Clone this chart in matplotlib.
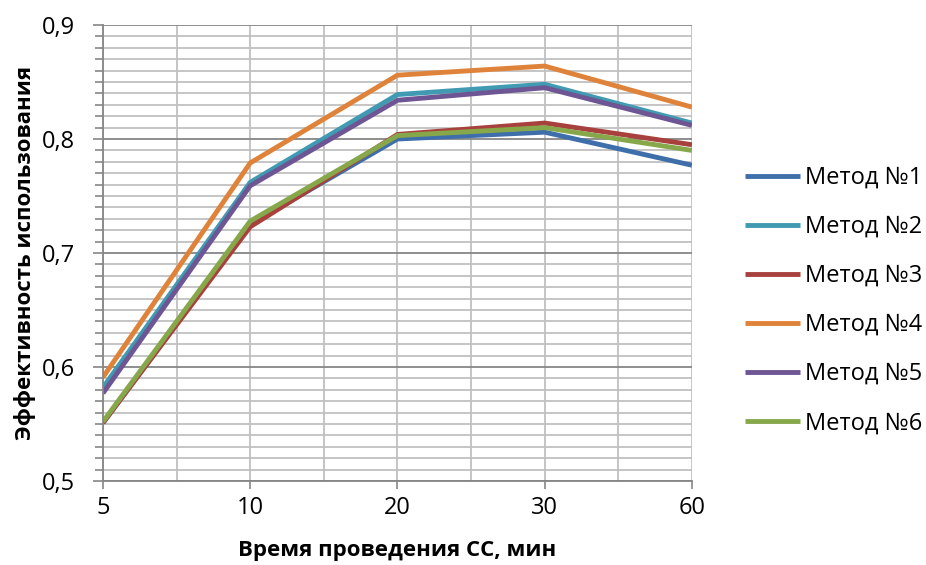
import numpy as np
from matplotlib import pyplot as plt
from matplotlib.ticker import FixedLocator, MultipleLocator

plt.rcParams['font.family'] = ['Open Sans', 'DejaVu Sans']

times = ['5', '10', '20', '30', '60']
labels = ['Метод №1', 'Метод №2', 'Метод №3', 'Метод №4', 'Метод №5', 'Метод №6']

method_1 = [0.551, 0.725, 0.800, 0.806, 0.777]
method_2 = [0.582, 0.762, 0.839, 0.848, 0.814]
method_3 = [0.551, 0.723, 0.804, 0.814, 0.795]
method_4 = [0.591, 0.779, 0.856, 0.864, 0.828]
method_5 = [0.577, 0.759, 0.834, 0.845, 0.812]
method_6 = [0.552, 0.728, 0.803, 0.810, 0.790]

colors = ['#3F6FAA', '#3F9AB2', '#A8403D', '#E0833A', '#6E5593', '#86A84A']

fig = plt.figure(figsize=(9.26, 5.65), dpi=100)
ax = fig.add_axes([0.1112, 0.1487, 0.636, 0.807])

x = np.arange(len(times))
series = [method_1, method_2, method_3, method_4, method_5, method_6]
for values, color, label in zip(series, colors, labels):
    ax.plot(x, values, color=color, lw=3.5, label=label,
            solid_joinstyle='round', solid_capstyle='butt')

ax.set_xlim(0, len(times) - 1)
ax.set_ylim(0.5, 0.9)

ax.set_xticks(x)
ax.set_xticklabels(times)
ax.xaxis.set_minor_locator(MultipleLocator(0.5))

yt = np.round(np.arange(0.5, 0.91, 0.1), 2)
ax.set_yticks(yt)
ax.set_yticklabels([f'{v:.1f}'.replace('.', ',') for v in yt])
ax.yaxis.set_minor_locator(FixedLocator(np.round(np.arange(0.5, 0.9, 0.01), 2)))

ax.tick_params(axis='both', which='both', direction='out', color='#868686',
               labelsize=17, width=1.2)
ax.tick_params(axis='y', which='major', length=7, pad=13)
ax.tick_params(axis='y', which='minor', length=6)
ax.tick_params(axis='x', which='major', length=6, pad=5)
ax.tick_params(axis='x', which='minor', length=0)

ax.grid(axis='y', which='major', color='#868686', lw=1.3)
ax.grid(axis='y', which='minor', color='#C0C0C0', lw=1.3)
ax.grid(axis='x', which='both', color='#C0C0C0', lw=1.3)
ax.set_axisbelow(True)

for side in ['top', 'right']:
    ax.spines[side].set_visible(False)
for side in ['left', 'bottom']:
    ax.spines[side].set_color('#868686')
    ax.spines[side].set_linewidth(1.3)

ax.set_xlabel('Время проведения СС, мин', fontsize=16, fontweight='bold', labelpad=14)
ax.set_ylabel('Эффективность использования', fontsize=16, fontweight='bold', labelpad=4)

fig.legend(loc='center left', bbox_to_anchor=(0.8045, 0.468), frameon=False,
           fontsize=17, handlelength=2.33, handletextpad=0.2, labelspacing=1.06,
           borderaxespad=0, borderpad=0)

fig.savefig('out.png', dpi=100)
